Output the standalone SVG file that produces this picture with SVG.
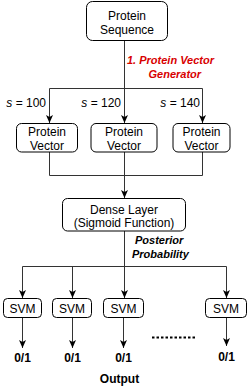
<svg xmlns="http://www.w3.org/2000/svg" width="248" height="389" viewBox="0 0 248 389">
<style>
.box{fill:#fff;stroke:#000;stroke-width:1}
.t{font-family:"Liberation Sans",Arial,sans-serif;font-size:12px;fill:#000;text-anchor:middle}
.b{font-family:"Liberation Sans",Arial,sans-serif;font-size:12px;font-weight:bold;fill:#000;text-anchor:middle}
.bi{font-family:"Liberation Sans",Arial,sans-serif;font-size:11px;font-weight:bold;font-style:italic}
.s{font-family:"Liberation Sans",Arial,sans-serif;font-size:12px;fill:#000;text-anchor:end}
.c{fill:none;stroke:#333;stroke-width:1}
.ca{fill:none;stroke:#333;stroke-width:1;marker-end:url(#arr)}
</style>
<defs>
<marker id="arr" markerUnits="userSpaceOnUse" viewBox="0 -4 8 8" markerWidth="8" markerHeight="8" refX="8" refY="0" orient="auto">
<path d="M0,-3.5 L8,0 L0,3.5 L2,0 Z" fill="#000"/>
</marker>
</defs>
<g id="connectors">
<path class="ca" d="M124.5,41 V123"/>
<path class="c" d="M49.5,88.5 H202.5"/>
<path class="ca" d="M49.5,88.5 V123"/>
<path class="ca" d="M202.5,88.5 V123"/>
<path class="c" d="M49.5,152 V175.5 H202.5 V152"/>
<path class="ca" d="M124.5,152 V198"/>
<path class="ca" d="M124.5,231 V298"/>
<path class="c" d="M22.5,266.5 H226.5"/>
<path class="ca" d="M22.5,266.5 V298"/>
<path class="ca" d="M72.5,266.5 V298"/>
<path class="ca" d="M226.5,266.5 V298"/>
<path class="ca" d="M22.5,318 V348"/>
<path class="ca" d="M72.5,318 V348"/>
<path class="ca" d="M123.5,318 V348"/>
<path class="ca" d="M226.5,318 V346"/>
<line x1="152" y1="337.5" x2="196" y2="337.5" stroke="#000" stroke-width="2" stroke-dasharray="2.5 2"/>
</g>
<g id="edge-labels">
<text class="bi" x="127" y="63.5" fill="#d80000">1. Protein Vector</text>
<text class="bi" x="148.5" y="77.5" fill="#d80000">Generator</text>
<text class="s" x="46" y="107"><tspan font-style="italic">s</tspan> = 100</text>
<text class="s" x="121" y="107"><tspan font-style="italic">s</tspan> = 120</text>
<text class="s" x="200" y="107"><tspan font-style="italic">s</tspan> = 140</text>
<text class="bi" x="135" y="243.5" fill="#000">Posterior</text>
<text class="bi" x="132" y="258" fill="#000">Probability</text>
</g>
<g id="protein-sequence">
<rect class="box" x="86.5" y="1.5" width="81" height="39" rx="6"/>
<text class="t" x="127" y="19.5">Protein</text>
<text class="t" x="127" y="33.5">Sequence</text>
</g>
<g id="protein-vector-100">
<rect class="box" x="16.5" y="123.5" width="61" height="28.5" rx="5"/>
<text class="t" x="47" y="135.5">Protein</text>
<text class="t" x="47" y="149.5">Vector</text>
</g>
<g id="protein-vector-120">
<rect class="box" x="91" y="123.5" width="66" height="28.5" rx="5"/>
<text class="t" x="124" y="135.5">Protein</text>
<text class="t" x="124" y="149.5">Vector</text>
</g>
<g id="protein-vector-140">
<rect class="box" x="173" y="123.5" width="57" height="28.5" rx="5"/>
<text class="t" x="201.5" y="135.5">Protein</text>
<text class="t" x="201.5" y="149.5">Vector</text>
</g>
<g id="dense-layer">
<rect class="box" x="62.5" y="198.5" width="123" height="32.5" rx="5"/>
<text class="t" x="124" y="214">Dense Layer</text>
<text class="t" x="124" y="227">(Sigmoid Function)</text>
</g>
<g id="svm-1">
<rect class="box" x="3.5" y="298.5" width="38" height="19" rx="4"/>
<text class="t" x="22.5" y="312.5">SVM</text>
</g>
<g id="svm-2">
<rect class="box" x="52.5" y="298.5" width="39" height="19" rx="4"/>
<text class="t" x="72" y="312.5">SVM</text>
</g>
<g id="svm-3">
<rect class="box" x="103.5" y="298.5" width="40" height="19" rx="4"/>
<text class="t" x="123.5" y="312.5">SVM</text>
</g>
<g id="svm-4">
<rect class="box" x="205.5" y="298.5" width="41" height="19" rx="4"/>
<text class="t" x="226" y="312.5">SVM</text>
</g>
<g id="outputs">
<text class="b" x="22.5" y="362">0/1</text>
<text class="b" x="72.5" y="362">0/1</text>
<text class="b" x="123.5" y="362">0/1</text>
<text class="b" x="226.5" y="360.5">0/1</text>
<text class="b" x="119.5" y="383">Output</text>
</g>
</svg>
